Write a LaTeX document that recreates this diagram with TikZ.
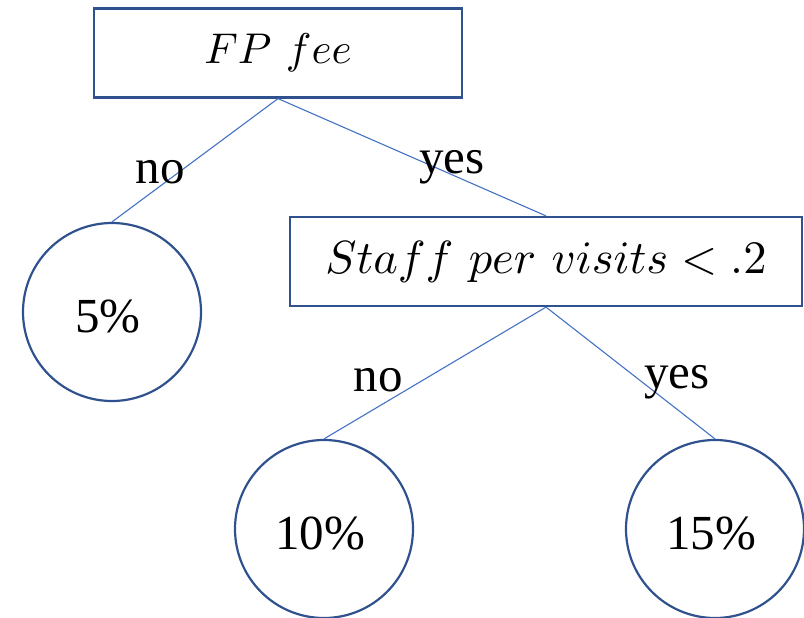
\documentclass[tikz,border=0pt]{standalone}
\usepackage{fontspec}
\usepackage{graphicx}
\newfontfamily\lblfont{Liberation Serif}
\definecolor{boxblue}{HTML}{2F528F}
\definecolor{linkblue}{HTML}{4472C4}
\newcommand{\bigmath}[2]{\scalebox{#1}{$#2$}}
\tikzset{
  condbox/.style={draw=boxblue, line width=2.2pt, rectangle, inner sep=0pt},
  leaf/.style={draw=boxblue, line width=2.2pt, circle, inner sep=0pt, minimum size=178pt},
  link/.style={draw=linkblue, line width=1.1pt},
  lbl/.style={font=\lblfont\fontsize{49}{58}\selectfont, inner sep=0pt},
  pct/.style={label={[lbl, xshift=-4pt, yshift=-5pt]center:#1}}
}
\begin{document}
\begin{tikzpicture}[x=1pt,y=-1pt]
\useasboundingbox (0,0) rectangle (804,618);
\node[condbox, minimum width=368pt, minimum height=89pt] (fp) at (278,53) {\bigmath{4.3}{FP\ fee}};
\node[condbox, minimum width=512pt, minimum height=89pt] (staff) at (546,261.5) {\bigmath{4.65}{Staff\ per\ visits<.2}};
\node[leaf, pct={5\%}] (c5) at (112,312) {};
\node[leaf, pct={10\%}] (c10) at (324,529) {};
\node[leaf, pct={15\%}] (c15) at (715,529) {};
\draw[link] (fp.south) -- (c5.north);
\draw[link] (fp.south) -- (staff.north);
\draw[link] (staff.south) -- (c10.north);
\draw[link] (staff.south) -- (c15.north);
\node[lbl] (l1) at (160,172) {no};
\node[lbl] (l2) at (452,167) {yes};
\node[lbl] (l3) at (378,380) {no};
\node[lbl] (l4) at (677,382) {yes};
\end{tikzpicture}
\end{document}
